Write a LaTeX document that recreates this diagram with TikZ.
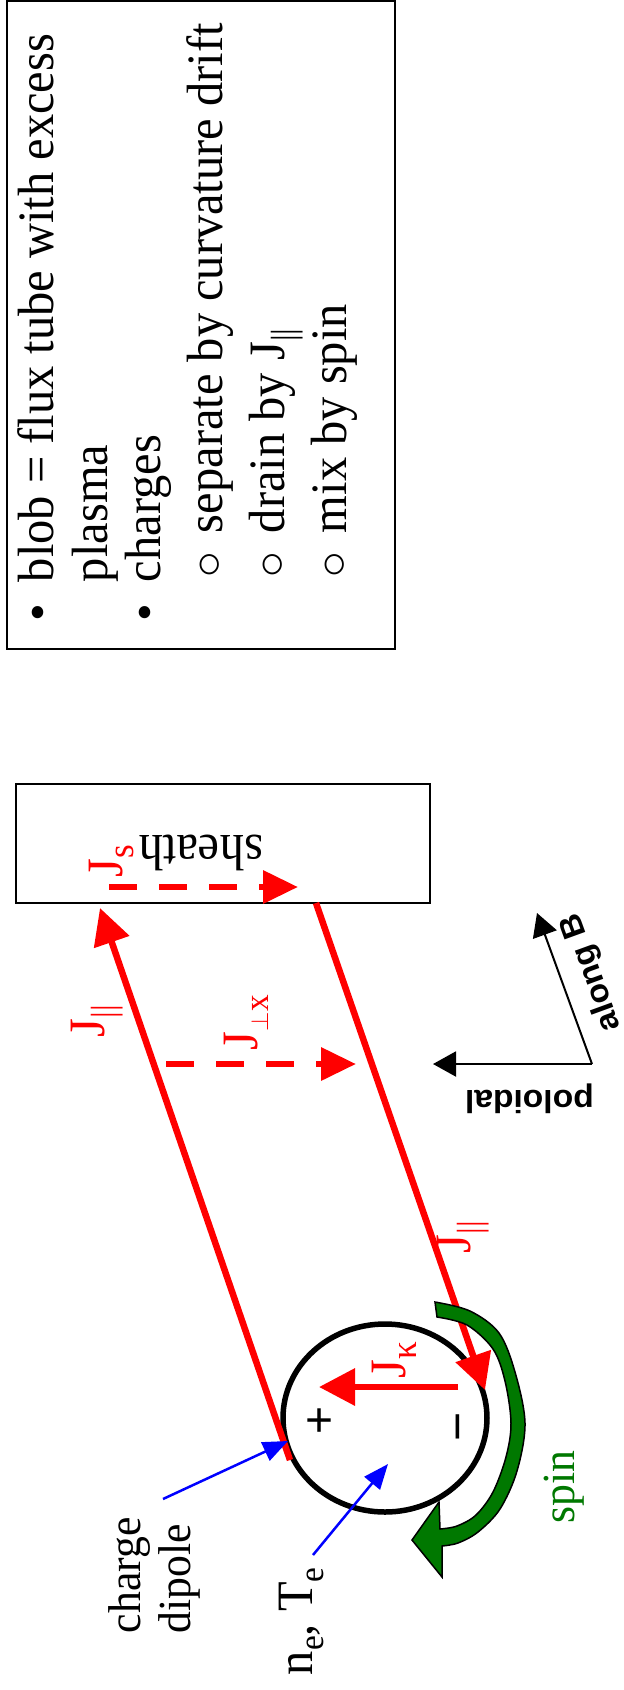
\documentclass[tikz,border=0pt]{standalone}
\usepackage{fontspec}
\setmainfont{Liberation Serif}[FakeStretch=0.95]
\newfontfamily\sansfam{Liberation Sans}
\newfontfamily\sansbold{Liberation Sans Bold}[FakeStretch=1.05]
\usetikzlibrary{arrows.meta,shapes.geometric}
\definecolor{spingreen}{RGB}{0,120,0}
% lowered index in a smaller size
\newcommand\lowidx[2][35]{\raisebox{-11pt}{\fontsize{#1}{#1}\selectfont #2}}

\begin{document}
\begin{tikzpicture}[x=1pt,y=-1pt,
  serif/.style={inner sep=0pt, outer sep=0pt, font=\fontsize{51}{58}\selectfont},
  vert/.style={serif, rotate=90, anchor=base west},
  ring/.style={inner sep=0pt, font=\fontsize{46}{50}\selectfont},
  frame/.style={draw=black, line width=2pt},
  jline/.style={draw=red, line width=6.5pt, -{Triangle[length=36pt,width=36pt]}},
  jdash/.style={draw=red, line width=6.5pt, dash pattern=on 28pt off 22pt,
                -{Triangle[length=35pt,width=32pt]}},
  axis/.style={draw=black, line width=2pt, -{Triangle[length=23pt,width=25pt]}},
  pointer/.style={draw=blue, line width=2.5pt, -{Triangle[length=25pt,width=20pt]}},
  sansb/.style={inner sep=0pt, font=\sansbold\fontsize{32}{34}\selectfont},
]
\useasboundingbox (0,0) rectangle (624,1690);

% ---- legend ----
\draw[frame] (7,1) rectangle (395,649);
\node[serif] (dot1) at (38,618) {•};
\node[vert] (blobline) at (53,582) {blob = flux tube with excess};
\node[vert] (plasmaline) at (107,582) {plasma};
\node[serif] (dot2) at (145,618) {•};
\node[vert] (chargesline) at (160,582) {charges};
\node[ring] (o1) at (210,567) {○};
\node[vert] (sepline) at (222,533) {separate by curvature drift};
\node[ring] (o2) at (273,567) {○};
\node[vert] (drainline) at (284,533) {drain by J\lowidx{||}};
\node[ring] (o3) at (335,567) {○};
\node[vert] (mixline) at (346,533) {mix by spin};

% ---- sheath ----
\draw[frame] (16,784) rectangle (430,903);
\node[serif, rotate=180, anchor=base west] (sheathlbl) at (263,835) {sheath};
\node[vert, text=red] (jslbl) at (122,877) {J\lowidx[37]{s}};
\coordinate (jsfrom) at (109,887);
\coordinate (jsto) at (298,887);
\draw[jdash] (jsfrom) -- (jsto);

% ---- flux tube currents ----
\coordinate (Ltip) at (100,908);
\coordinate (Lfoot) at (290,1460);
\coordinate (Rhead) at (316,903);
\coordinate (Rtip) at (485,1390);
\node[draw, ellipse, line width=5.5pt, minimum width=204pt, minimum height=188pt,
      inner sep=0pt] (blob) at (385,1418) {};
\draw[jline] (Lfoot) -- (Ltip);
\draw[jline] (Rhead) -- (Rtip);
\node[vert, text=red] (jpar1) at (104,1037) {J\lowidx{||}};
\node[vert, text=red] (jpar2) at (470,1253) {J\lowidx{||}};

\coordinate (jxfrom) at (166,1064);
\coordinate (jxto) at (356,1064);
\draw[jdash] (jxfrom) -- (jxto);
\node[vert, text=red] (jxlbl) at (257,1050) {J\lowidx{$\perp$x}};

\coordinate (jkfrom) at (458,1387);
\coordinate (jkto) at (319,1387);
\draw[jline] (jkfrom) -- (jkto);
\node[vert, text=red] (jklbl) at (405,1378) {J\lowidx[37]{κ}};

\node[inner sep=0pt, font=\sansfam\fontsize{48}{50}\selectfont] (plus) at (320,1423) {+};
\node[inner sep=0pt, rotate=90, font=\sansfam\fontsize{50}{50}\selectfont] (minus) at (465,1427) {−};

% ---- spin ----
\filldraw[fill=spingreen, draw=black, line width=1.5pt]
  plot[smooth, tension=0.55] coordinates {(435,1302) (470,1311) (499,1333) (515,1372)
      (525,1423) (517,1471) (500,1509) (478,1532) (458,1543) (442,1546)}
  -- (442,1577) -- (412,1540) -- (439,1502) -- (440,1529)
  -- plot[smooth, tension=0.55] coordinates {(440,1529) (457,1526) (476,1515) (493,1492)
      (506,1457) (511,1423) (505,1381) (493,1349) (467,1325) (437,1317)}
  -- cycle;
\node[vert, text=spingreen, font=\fontsize{46}{50}\selectfont] (spinlbl) at (574,1523) {spin};

% ---- axes ----
\coordinate (corner) at (592,1064);
\coordinate (poltip) at (433,1064);
\coordinate (btip) at (537,913);
\draw[axis] (corner) -- (poltip);
\draw[axis] (corner) -- (btip);
\node[sansb, rotate=180, anchor=base west] (pollbl) at (594,1090) {poloidal};
\node[sansb, rotate=110] (alonglbl) at (592,972) {along B};

% ---- pointers ----
\node[vert, font=\fontsize{46}{50}\selectfont] (chargelbl) at (140,1633) {charge};
\node[vert, font=\fontsize{46}{50}\selectfont] (dipolelbl) at (190,1633) {dipole};
\node[vert] (netelbl) at (312,1675) {n\lowidx{e}, T\lowidx{e}};
\coordinate (dipfrom) at (163,1499);
\coordinate (dipto) at (288,1441);
\coordinate (tefrom) at (313,1555);
\coordinate (teto) at (388,1464);
\draw[pointer] (dipfrom) -- (dipto);
\draw[pointer] (tefrom) -- (teto);
\end{tikzpicture}
\end{document}
